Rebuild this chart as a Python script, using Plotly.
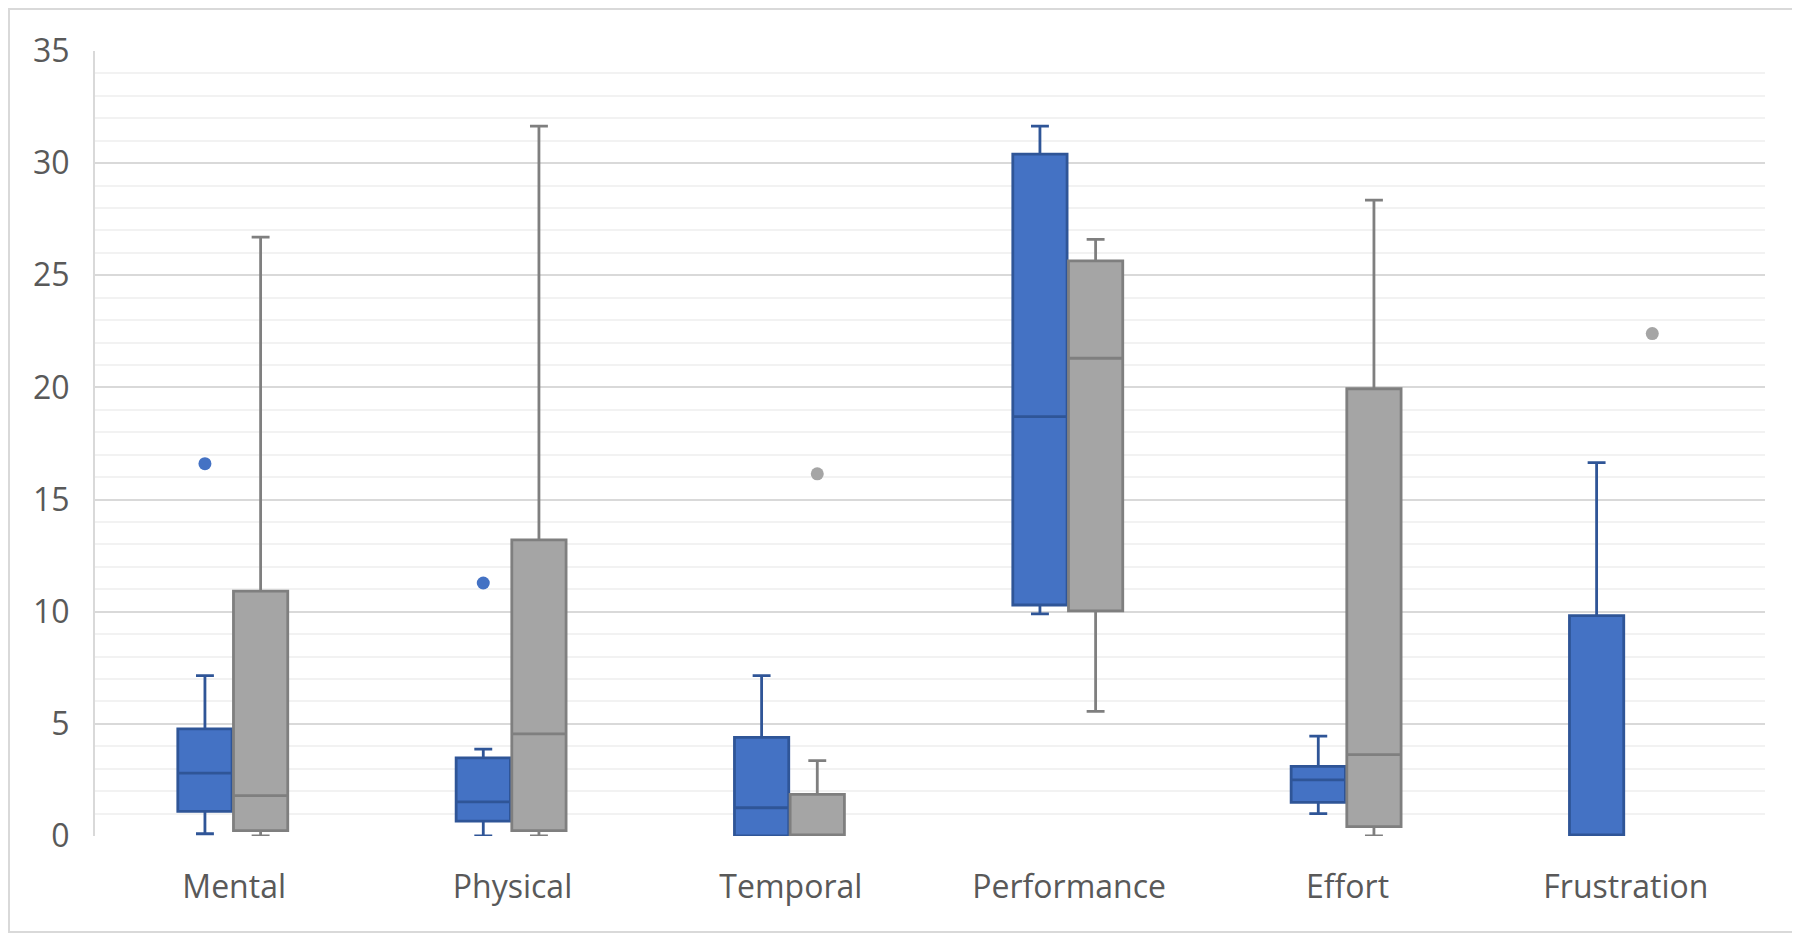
import plotly.graph_objects as go

categories = ["Mental", "Physical", "Temporal", "Performance", "Effort", "Frustration"]

# Series A (blue)
a_lower = [0.1, 0.0, 0.0, 9.9, 1.0, 0.0]
a_q1 = [1.1, 0.66, 0.0, 10.3, 1.5, 0.0]
a_median = [2.8, 1.52, 1.26, 18.7, 2.5, 0.0]
a_q3 = [4.78, 3.48, 4.4, 30.4, 3.1, 9.83]
a_upper = [7.15, 3.87, 7.15, 31.65, 4.45, 16.65]
a_out_cat = [0, 1]
a_out_val = [16.6, 11.28]

# Series B (gray); no visible box for Frustration
b_lower = [0.0, 0.0, 0.0, 5.56, 0.0, None]
b_q1 = [0.24, 0.24, 0.0, 10.04, 0.42, None]
b_median = [1.8, 4.55, 0.0, 21.3, 3.63, None]
b_q3 = [10.92, 13.2, 1.86, 25.64, 19.94, None]
b_upper = [26.7, 31.65, 3.36, 26.6, 28.35, None]
b_out_cat = [2, 5]
b_out_val = [16.15, 22.4]

y_ticks = [0, 5, 10, 15, 20, 25, 30, 35]

BLUE_FILL = "#4472C4"
BLUE_LINE = "#2F5597"
GRAY_FILL = "#A5A5A5"
GRAY_LINE = "#7F7F7F"
OFF_A = -0.105
OFF_B = 0.095
BOX_W = 0.195

W, H = 1792, 930
L, R, T, B = 87, 35, 43, 102
PW, PH = W - L - R, H - T - B


def box_trace(offset, lo, q1, med, q3, up, fill, line):
    idx = [i for i in range(len(categories)) if q1[i] is not None]
    return go.Box(
        x=[i + offset for i in idx],
        q1=[q1[i] for i in idx], median=[med[i] for i in idx], q3=[q3[i] for i in idx],
        lowerfence=[lo[i] for i in idx], upperfence=[up[i] for i in idx],
        width=BOX_W, whiskerwidth=0.33, boxpoints=False,
        fillcolor=fill, line=dict(color=line, width=2.8),
        showlegend=False, hoverinfo="skip",
    )


fig = go.Figure()
fig.add_trace(box_trace(OFF_A, a_lower, a_q1, a_median, a_q3, a_upper, BLUE_FILL, BLUE_LINE))
fig.add_trace(box_trace(OFF_B, b_lower, b_q1, b_median, b_q3, b_upper, GRAY_FILL, GRAY_LINE))
fig.add_trace(go.Scatter(
    x=[c + OFF_A for c in a_out_cat], y=a_out_val, mode="markers",
    marker=dict(color=BLUE_FILL, size=13, line=dict(width=0)),
    showlegend=False,
))
fig.add_trace(go.Scatter(
    x=[c + OFF_B for c in b_out_cat], y=b_out_val, mode="markers",
    marker=dict(color=GRAY_FILL, size=13, line=dict(width=0)),
    showlegend=False,
))

fig.update_layout(
    width=W, height=H,
    margin=dict(l=L, r=R, t=T, b=B),
    paper_bgcolor="white", plot_bgcolor="white",
    font=dict(family="Open Sans", size=32, color="#595959"),
    boxmode="overlay",
    xaxis=dict(
        range=[-0.5, len(categories) - 0.5],
        tickvals=list(range(len(categories))), ticktext=categories,
        showgrid=False, zeroline=False, showline=False,
        ticks="", ticklabelstandoff=29,
    ),
    yaxis=dict(
        range=[0, 35], tickvals=y_ticks,
        showgrid=True, gridcolor="#D9D9D9", gridwidth=2,
        minor=dict(dtick=1, showgrid=True, gridcolor="#F2F2F2", gridwidth=2),
        zeroline=False, showline=True, linecolor="#D9D9D9", linewidth=2,
        ticks="", ticklabelstandoff=17,
    ),
    shapes=[dict(
        type="rect", xref="paper", yref="paper",
        x0=(1 - L) / PW, x1=(1785 - L) / PW,
        y0=(H - B - 924) / PH, y1=(H - B - 1) / PH,
        line=dict(color="#D9D9D9", width=2), fillcolor="rgba(0,0,0,0)",
        layer="below",
    )],
)

fig.write_html("out.html")
